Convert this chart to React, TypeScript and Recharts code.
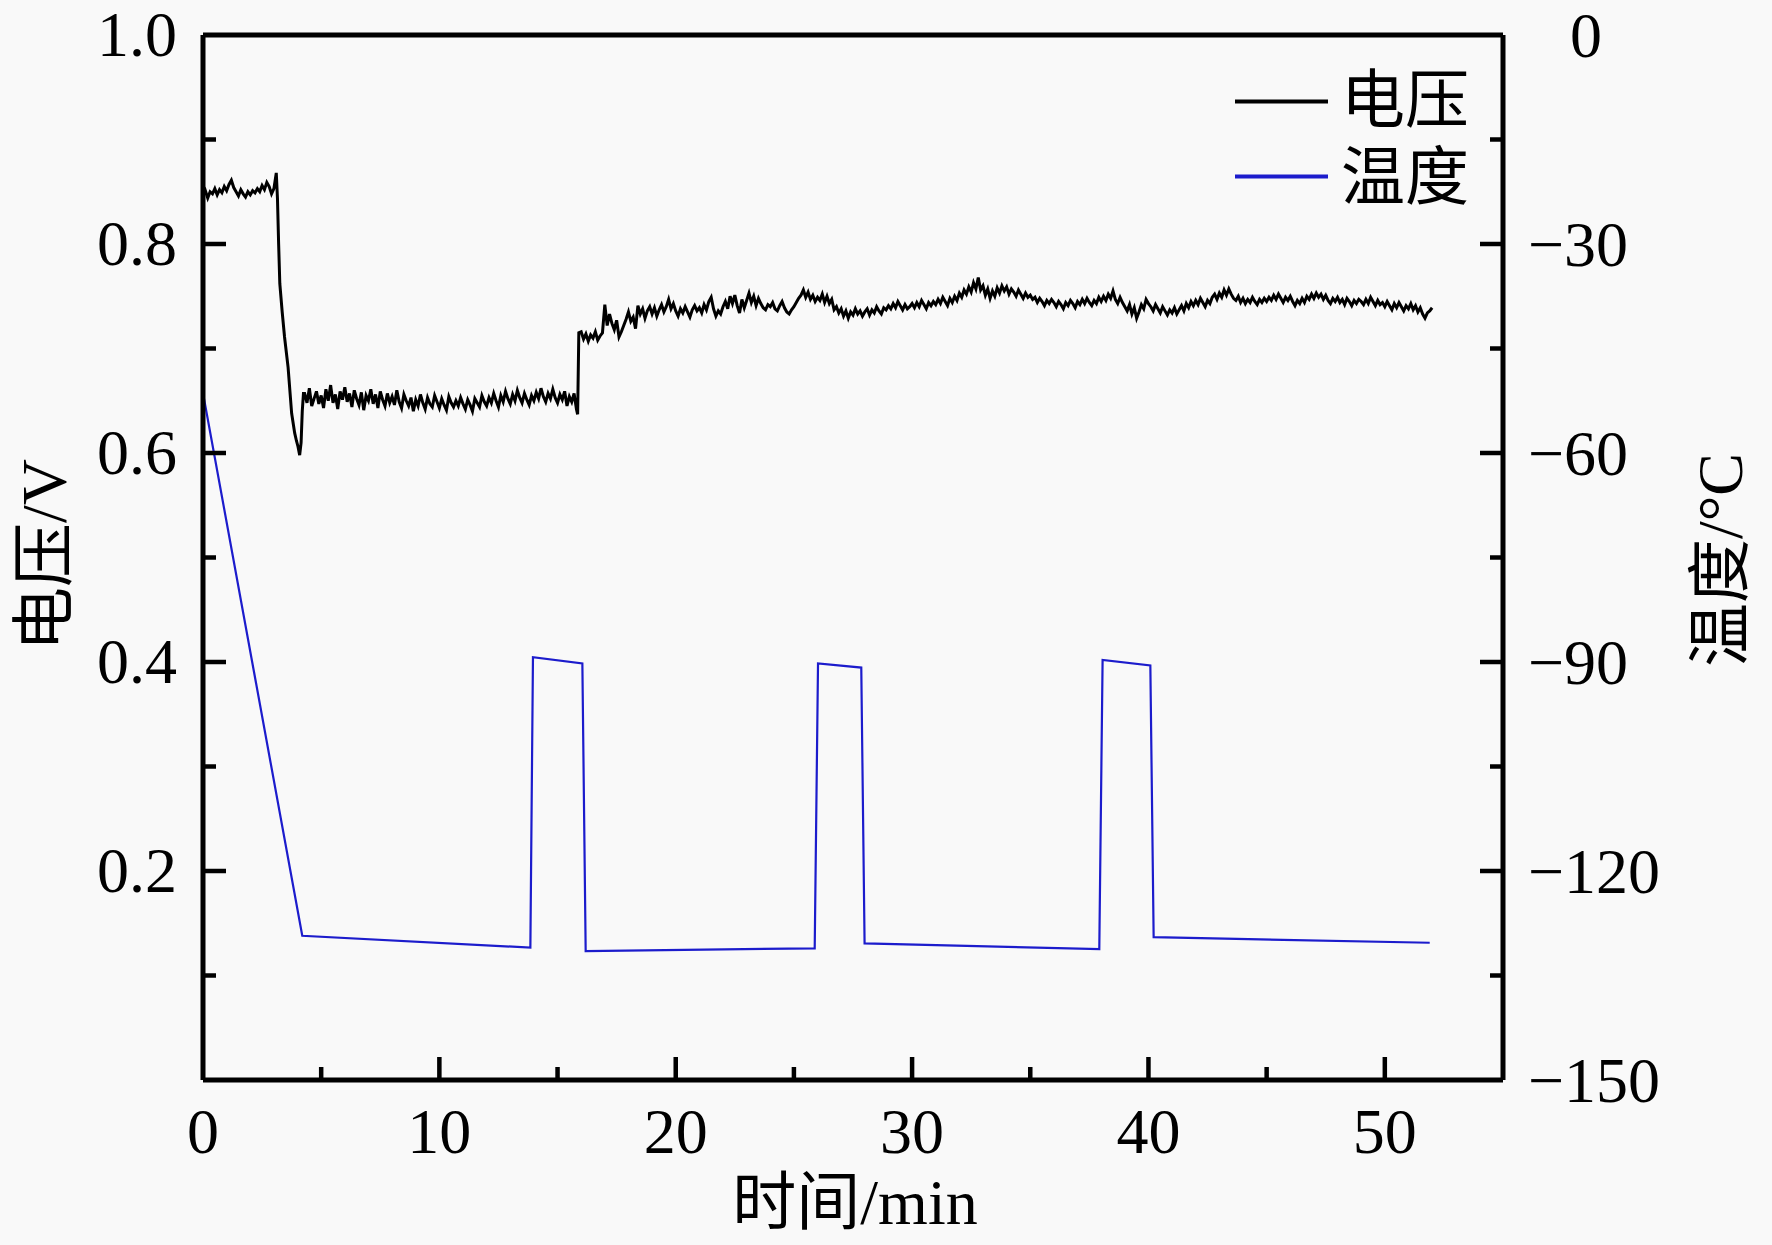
import React from 'react';
import { LineChart, Line, XAxis, YAxis, ReferenceLine, Legend } from 'recharts';

// 电压 (V), sampled every 0.1 min
const voltageStart = [
  0.846, 0.851, 0.844, 0.850, 0.848, 0.853, 0.847, 0.852, 0.849, 0.855,
  0.851, 0.857, 0.861, 0.854, 0.850, 0.846, 0.852, 0.848, 0.845, 0.850,
  0.847, 0.851, 0.849, 0.853, 0.850, 0.856, 0.852, 0.859, 0.855, 0.848,
  0.853, 0.868,
]; // t = 0.0 … 3.1

const voltageDrop = [
  [3.15, 0.844], [3.2, 0.8], [3.25, 0.762], [3.35, 0.735], [3.45, 0.711],
  [3.6, 0.682], [3.75, 0.638], [3.88, 0.619], [3.95, 0.612], [4.02, 0.606],
  [4.09, 0.598], [4.15, 0.61], [4.2, 0.64], [4.25, 0.657],
];

const voltagePlateau = [
  0.657, 0.648, 0.662, 0.645, 0.652, 0.659, 0.647,
  0.655, 0.643, 0.661, 0.650, 0.665, 0.648, 0.656, 0.642, 0.659, 0.651,
  0.663, 0.649, 0.657, 0.644, 0.660, 0.652, 0.646, 0.658, 0.641, 0.655,
  0.650, 0.661, 0.647, 0.656, 0.643, 0.659, 0.651, 0.645, 0.657, 0.648,
  0.654, 0.646, 0.660, 0.649, 0.643, 0.656, 0.650, 0.645, 0.653, 0.640,
  0.651, 0.645, 0.656, 0.648, 0.642, 0.653, 0.647, 0.644, 0.655, 0.649,
  0.643, 0.652, 0.646, 0.641, 0.654, 0.648, 0.644, 0.650, 0.645, 0.653,
  0.647, 0.642, 0.651, 0.646, 0.640, 0.652, 0.648, 0.644, 0.655, 0.649,
  0.645, 0.653, 0.648, 0.657, 0.650, 0.644, 0.655, 0.649, 0.659, 0.652,
  0.647, 0.656, 0.650, 0.660, 0.653, 0.648, 0.657, 0.651, 0.646, 0.655,
  0.650, 0.658, 0.652, 0.662, 0.654, 0.649, 0.657, 0.652, 0.661, 0.653,
  0.648, 0.656, 0.651, 0.659, 0.645, 0.654, 0.649, 0.657, 0.642,
]; // t = 4.3 … 15.8

const voltageJump = [[15.85, 0.637], [15.9, 0.715]];

const voltageRecovery = [
  0.716, 0.709, 0.714, 0.707, 0.713, 0.710, 0.716, 0.708, 0.712, 0.715,
  0.742, 0.722, 0.733, 0.724, 0.718, 0.727, 0.711, 0.716, 0.722, 0.728,
  0.735, 0.726, 0.730, 0.719, 0.741, 0.733, 0.738, 0.729, 0.736, 0.740,
  0.733, 0.739, 0.731, 0.737, 0.742, 0.735, 0.740, 0.747, 0.738, 0.743,
  0.736, 0.731, 0.738, 0.734, 0.740, 0.735, 0.730, 0.737, 0.741, 0.736,
  0.739, 0.734, 0.742, 0.737, 0.745, 0.749, 0.738, 0.731, 0.736, 0.733,
  0.740, 0.745, 0.738, 0.750, 0.743, 0.751, 0.741, 0.734, 0.747, 0.739,
  0.746, 0.753, 0.744, 0.750, 0.741, 0.748, 0.743, 0.739, 0.737, 0.742,
  0.740, 0.744, 0.738, 0.736, 0.741, 0.745, 0.739, 0.735, 0.733, 0.737,
  0.740, 0.744, 0.748, 0.751, 0.756, 0.749, 0.754, 0.747, 0.751, 0.745,
  0.749, 0.746, 0.752, 0.744, 0.750, 0.743, 0.747, 0.737, 0.740, 0.734,
  0.738, 0.731, 0.736, 0.729, 0.735, 0.732, 0.738, 0.733, 0.736, 0.731,
  0.735, 0.738, 0.732, 0.737, 0.734, 0.740, 0.736, 0.733, 0.739, 0.737,
  0.741, 0.738, 0.743, 0.739, 0.745, 0.741, 0.737, 0.742, 0.738, 0.740,
  0.743, 0.739, 0.744, 0.740, 0.746, 0.742, 0.738, 0.744, 0.741, 0.745,
  0.742, 0.747, 0.743, 0.749, 0.745, 0.741, 0.748, 0.744, 0.750, 0.746,
  0.753, 0.749, 0.756, 0.752, 0.759, 0.754, 0.763, 0.757, 0.768, 0.756,
  0.760, 0.751, 0.757, 0.748, 0.755, 0.750, 0.758, 0.753, 0.760, 0.755,
  0.759, 0.752, 0.757, 0.754, 0.750, 0.756, 0.752, 0.748, 0.753, 0.749,
  0.751, 0.747, 0.749, 0.744, 0.748, 0.745, 0.741, 0.746, 0.743, 0.747,
  0.744, 0.740, 0.745, 0.742, 0.738, 0.744, 0.741, 0.746, 0.743, 0.739,
  0.745, 0.742, 0.747, 0.743, 0.748, 0.744, 0.741, 0.746, 0.743, 0.749,
  0.745, 0.750, 0.746, 0.752, 0.748, 0.755, 0.747, 0.743, 0.749, 0.744,
  0.740, 0.736, 0.742, 0.733, 0.739, 0.729, 0.735, 0.742, 0.738, 0.747,
  0.743, 0.740, 0.736, 0.742, 0.738, 0.734, 0.740, 0.736, 0.732, 0.737,
  0.734, 0.739, 0.733, 0.737, 0.741, 0.736, 0.743, 0.739, 0.745, 0.741,
  0.746, 0.742, 0.748, 0.744, 0.740, 0.746, 0.743, 0.749, 0.752, 0.747,
  0.753, 0.749, 0.756, 0.751, 0.757, 0.752, 0.748, 0.746, 0.750, 0.744,
  0.748, 0.743, 0.747, 0.744, 0.749, 0.745, 0.742, 0.747, 0.744, 0.748,
  0.745, 0.749, 0.746, 0.751, 0.747, 0.752, 0.748, 0.744, 0.749, 0.746,
  0.750, 0.745, 0.741, 0.746, 0.743, 0.748, 0.744, 0.750, 0.747, 0.752,
  0.748, 0.753, 0.749, 0.752, 0.747, 0.751, 0.746, 0.743, 0.748, 0.745,
  0.749, 0.744, 0.747, 0.742, 0.748, 0.745, 0.741, 0.746, 0.743, 0.747,
  0.745, 0.742, 0.747, 0.743, 0.749, 0.745, 0.741, 0.746, 0.742, 0.744,
  0.740, 0.745, 0.741, 0.737, 0.743, 0.739, 0.744, 0.740, 0.736, 0.741,
  0.738, 0.743, 0.737, 0.741, 0.735, 0.739, 0.733, 0.729, 0.734, 0.736,
  0.739,
]; // t = 16.0 … 52.0

// 温度 (°C)
const tempTimes = [0, 4.2, 13.85, 13.96, 16.05, 16.19, 25.88, 26.02, 27.85, 27.99, 37.92, 38.06, 40.08, 40.22, 51.9];
const tempValues = [-51.4, -129.3, -131.0, -89.3, -90.2, -131.5, -131.1, -90.2, -90.8, -130.4, -131.2, -89.7, -90.5, -129.5, -130.3];

const xTicks = [0, 5, 10, 15, 20, 25, 30, 35, 40, 45, 50, 55];
const voltTicks = [0, 0.1, 0.2, 0.3, 0.4, 0.5, 0.6, 0.7, 0.8, 0.9, 1.0];
const tempTicks = [-150, -135, -120, -105, -90, -75, -60, -45, -30, -15, 0];

const W = 1772;
const H = 1245;
const LEFT = 203;
const RIGHT = 1503;
const TOP = 35;
const BOTTOM = 1080;
const AXIS_W = 2;
const FRAME = 5;
const TICK_W = 4.5;

const NUM_FONT = '"Liberation Serif", "Times New Roman", serif';
const CJK_FONT = '"Liberation Serif", "Noto Sans CJK SC", serif';
const BLUE = '#1c1ccc';

const sampled = (t0: number, values: number[]) =>
  values.map((v, i) => ({ t: +(t0 + i * 0.1).toFixed(2), v }));

const voltageData = [
  ...sampled(0, voltageStart),
  ...voltageDrop.map(([t, v]) => ({ t, v })),
  ...sampled(4.3, voltagePlateau),
  ...voltageJump.map(([t, v]) => ({ t, v })),
  ...sampled(16, voltageRecovery),
];

const tempData = tempTimes.map((t, i) => ({ t, T: tempValues[i] }));

const fmtMinus = (n: number) => (n < 0 ? '\u2212' + Math.abs(n) : String(n));

const XTick = (props: any) => {
  const { payload } = props;
  const v = payload.value;
  const x = payload.coordinate;
  const major = v % 10 === 0;
  const len = major ? 23 : 13;
  return (
    <g>
      {v > 0 && v < 55 && (
        <line x1={x} x2={x} y1={BOTTOM} y2={BOTTOM - len} stroke="#000" strokeWidth={TICK_W} />
      )}
      {major && v <= 50 && (
        <text x={x} y={BOTTOM + 73} textAnchor="middle" fontFamily={NUM_FONT} fontSize={64} fill="#000">
          {v}
        </text>
      )}
    </g>
  );
};

const VoltTick = (props: any) => {
  const { payload } = props;
  const v = payload.value;
  const y = payload.coordinate;
  const major = Math.round(v * 10) % 2 === 0;
  const len = major ? 23 : 13;
  return (
    <g>
      {v > 0 && v < 1 && (
        <line x1={LEFT} x2={LEFT + len} y1={y} y2={y} stroke="#000" strokeWidth={TICK_W} />
      )}
      {major && v > 0 && (
        <text x={LEFT - 26} y={y + 21} textAnchor="end" fontFamily={NUM_FONT} fontSize={64} fill="#000">
          {v.toFixed(1)}
        </text>
      )}
    </g>
  );
};

const TempTick = (props: any) => {
  const { payload } = props;
  const v = payload.value;
  const y = payload.coordinate;
  const major = v % 30 === 0;
  const len = major ? 23 : 13;
  return (
    <g>
      {v > -150 && v < 0 && (
        <line x1={RIGHT} x2={RIGHT - len} y1={y} y2={y} stroke="#000" strokeWidth={TICK_W} />
      )}
      {major && (
        <text x={v === 0 ? 1570 : 1528} y={y + 22} textAnchor="start" fontFamily={NUM_FONT} fontSize={64} fill="#000">
          {fmtMinus(v)}
        </text>
      )}
    </g>
  );
};

const renderLegend = () => (
  <svg width={300} height={200}>
    <line x1={15} x2={108} y1={61.5} y2={61.5} stroke="#000" strokeWidth={4} />
    <text x={121} y={82} fontFamily={CJK_FONT} fontSize={64} fill="#000">电压</text>
    <line x1={15} x2={108} y1={136.5} y2={136.5} stroke={BLUE} strokeWidth={4} />
    <text x={121} y={159} fontFamily={CJK_FONT} fontSize={64} fill="#000">温度</text>
  </svg>
);

export default function App() {
  return (
    <div style={{ width: W, height: H, background: '#f9f9f9', position: 'relative' }}>
      <style>{'body{margin:0;background:#f9f9f9}'}</style>
      <LineChart
        width={W}
        height={H}
        margin={{ top: TOP, right: W - RIGHT - AXIS_W, bottom: H - BOTTOM - AXIS_W, left: LEFT - AXIS_W }}
      >
        <XAxis
          type="number"
          dataKey="t"
          domain={[0, 55]}
          ticks={xTicks}
          height={AXIS_W}
          tickSize={0}
          tickLine={false}
          tick={<XTick />}
          axisLine={{ stroke: '#000', strokeWidth: FRAME }}
          allowDataOverflow
        />
        <YAxis
          yAxisId="v"
          type="number"
          domain={[0, 1]}
          ticks={voltTicks}
          width={AXIS_W}
          tickSize={0}
          tickLine={false}
          tick={<VoltTick />}
          axisLine={{ stroke: '#000', strokeWidth: FRAME }}
          allowDataOverflow
        />
        <YAxis
          yAxisId="T"
          orientation="right"
          type="number"
          domain={[-150, 0]}
          ticks={tempTicks}
          width={AXIS_W}
          tickSize={0}
          tickLine={false}
          tick={<TempTick />}
          axisLine={{ stroke: '#000', strokeWidth: FRAME }}
          allowDataOverflow
        />
        <ReferenceLine yAxisId="v" y={1} stroke="#000" strokeWidth={FRAME} />
        <Legend
          content={renderLegend}
          layout="horizontal"
          verticalAlign="middle"
          align="center"
          wrapperStyle={{ left: 1220, top: 40, width: 300, height: 200 }}
        />
        <Line
          yAxisId="v"
          data={voltageData}
          dataKey="v"
          type="linear"
          stroke="#000"
          strokeWidth={3}
          dot={false}
          isAnimationActive={false}
        />
        <Line
          yAxisId="T"
          data={tempData}
          dataKey="T"
          type="linear"
          stroke={BLUE}
          strokeWidth={2.2}
          dot={false}
          isAnimationActive={false}
        />
      </LineChart>
      <svg width={W} height={H} style={{ position: 'absolute', left: 0, top: 0, pointerEvents: 'none' }}>
        <text x={855} y={1224} textAnchor="middle" fontFamily={CJK_FONT} fontSize={64} fill="#000">
          时间/min
        </text>
        <text
          x={66}
          y={555}
          textAnchor="middle"
          transform="rotate(-90, 66, 555)"
          fontFamily={CJK_FONT}
          fontSize={64}
          fill="#000"
        >
          电压/V
        </text>
        <text
          x={1742}
          y={560}
          textAnchor="middle"
          transform="rotate(-90, 1742, 560)"
          fontFamily={CJK_FONT}
          fontSize={64}
          fill="#000"
        >
          温度/°C
        </text>
      </svg>
    </div>
  );
}
